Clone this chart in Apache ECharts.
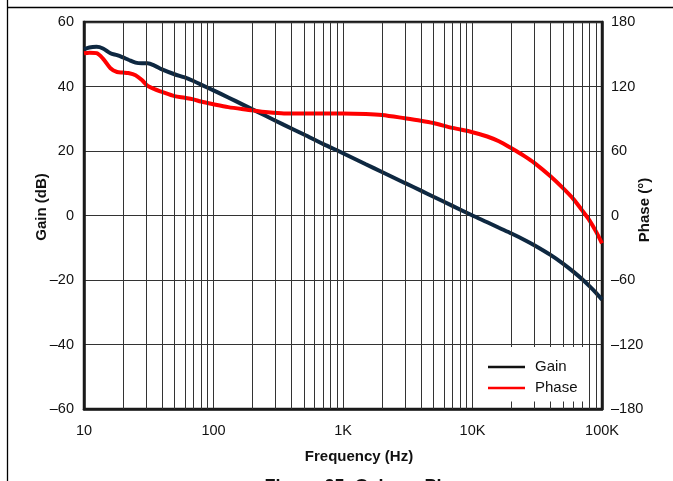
<!DOCTYPE html>
<html>
<head>
<meta charset="utf-8">
<script src="https://cdn.jsdelivr.net/npm/echarts@6/dist/echarts.min.js"></script>
<style>
html,body{margin:0;padding:0;background:#fff;}
#chart{width:673px;height:481px;}
</style>
</head>
<body>
<div id="chart"></div>
<script>
// ---- data ----
const freqs = [10, 11, 12.5, 14, 16, 18, 20, 22, 25, 28, 31, 35, 40, 50, 60, 70, 80, 100, 130, 170, 200, 250, 350, 500, 700, 1000, 1500, 2000, 3000, 4000, 5000, 7000, 10000, 13000, 16000, 20000, 25000, 30000, 40000, 50000, 60000, 70000, 80000, 90000, 100000];
const gainDb = [51.5, 52.1, 52.3, 51.8, 50.3, 49.7, 49.0, 48.3, 47.4, 47.2, 47.2, 46.5, 45.3, 43.8, 42.8, 41.7, 40.6, 38.8, 36.6, 34.3, 32.9, 31.0, 28.1, 25.1, 22.2, 19.3, 15.9, 13.5, 10.1, 7.7, 5.8, 3.0, 0, -2.1, -3.8, -5.6, -7.5, -9.2, -12.2, -14.9, -17.4, -19.7, -21.9, -24.0, -26.1];
const phaseDeg = [151, 151.5, 151, 146, 137, 133.5, 133, 132.5, 130.5, 126, 120.5, 117.5, 115, 111, 109.5, 108, 106, 103.5, 100.8, 98.8, 97.8, 96.3, 95, 95, 95, 95, 94.5, 93.5, 90.5, 88.2, 86, 81.5, 77.5, 73.5, 69, 62.5, 55.5, 49, 36.5, 25.5, 15.5, 5, -4.5, -15, -26];
const decades = [10, 100, 1000, 10000, 100000];
const xTickLabels = ['10', '100', '1K', '10K', '100K'];
const minorMultipliers = [2, 3, 4, 5, 6, 7, 8, 9];
const seriesNames = ['Gain', 'Phase'];

const minorLines = [];
decades.slice(0, 4).forEach(d => minorMultipliers.forEach(m => minorLines.push({ xAxis: d * m })));

const fmtNeg = v => (v < 0 ? '\u2013' + (-v) : String(v));
const FONT = 'Liberation Sans, Arial, sans-serif';
const gridColor = '#333';

const chart = echarts.init(document.getElementById('chart'), null, { renderer: 'canvas' });
chart.setOption({
  animation: false,
  backgroundColor: '#fff',
  textStyle: { fontFamily: FONT },
  grid: { left: 84, right: 71, top: 22, bottom: 72, show: true, borderColor: '#1a1a1a', borderWidth: 2.5, backgroundColor: 'transparent' },
  legend: {
    orient: 'vertical', left: 478, top: 347, z: 10,
    backgroundColor: '#fff', padding: [12.5, 7, 6, 10], itemGap: 6,
    itemWidth: 37, itemHeight: 2.5, icon: 'rect',
    textStyle: { fontSize: 15, color: '#111', fontFamily: FONT, padding: [0, 0, 0, 5] },
    data: [
      { name: seriesNames[0], itemStyle: { color: '#111' } },
      { name: seriesNames[1], itemStyle: { color: '#ff0000' } }
    ]
  },
  xAxis: {
    type: 'log', logBase: 10, min: 10, max: 100000,
    axisLine: { show: true, onZero: false, lineStyle: { color: '#1a1a1a', width: 2.5 } },
    axisTick: { show: false },
    splitLine: { show: true, lineStyle: { color: gridColor, width: 1 } },
    axisLabel: {
      fontSize: 14.5, color: '#111', fontFamily: FONT, margin: 14,
      formatter: v => { const i = decades.indexOf(Math.round(v)); return i >= 0 ? xTickLabels[i] : ''; }
    }
  },
  yAxis: [
    {
      type: 'value', min: -60, max: 60, interval: 20,
      axisLine: { show: true, onZero: false, lineStyle: { color: '#1a1a1a', width: 2.5 } },
      axisTick: { show: false },
      splitLine: { show: true, lineStyle: { color: gridColor, width: 1 } },
      axisLabel: { fontSize: 14.5, color: '#111', fontFamily: FONT, margin: 10, formatter: fmtNeg }
    },
    {
      type: 'value', min: -180, max: 180, interval: 60, position: 'right',
      axisLine: { show: true, onZero: false, lineStyle: { color: '#1a1a1a', width: 2.5 } },
      axisTick: { show: false },
      splitLine: { show: false },
      axisLabel: { fontSize: 14.5, color: '#111', fontFamily: FONT, margin: 9, formatter: fmtNeg }
    }
  ],
  series: [
    {
      name: seriesNames[0], type: 'line', yAxisIndex: 0, showSymbol: false, smooth: 0.3,
      data: freqs.map((f, i) => [f, gainDb[i]]),
      lineStyle: { color: '#0e2841', width: 4 }, itemStyle: { color: '#0e2841' },
      markLine: {
        silent: true, symbol: 'none', label: { show: false }, animation: false,
        lineStyle: { color: gridColor, width: 1, type: 'solid' },
        data: minorLines
      },
      z: 3
    },
    {
      name: seriesNames[1], type: 'line', yAxisIndex: 1, showSymbol: false, smooth: 0.3,
      data: freqs.map((f, i) => [f, phaseDeg[i]]),
      lineStyle: { color: '#ff0000', width: 4 }, itemStyle: { color: '#ff0000' },
      z: 3
    }
  ],
  graphic: [
    { type: 'rect', z: 9, shape: { x: 478, y: 347, width: 107, height: 53 }, style: { fill: '#fff' }, silent: true },
    { type: 'line', shape: { x1: 7.5, y1: 7.5, x2: 673, y2: 7.5 }, style: { stroke: '#000', lineWidth: 1.3 } },
    { type: 'line', shape: { x1: 7.5, y1: 0, x2: 7.5, y2: 481 }, style: { stroke: '#000', lineWidth: 1.3 } },
    { type: 'text', x: 42, y: 207, rotation: Math.PI / 2, style: { text: 'Gain (dB)', font: 'bold 15px ' + FONT, fill: '#111', textAlign: 'center', textVerticalAlign: 'middle' } },
    { type: 'text', x: 645, y: 210, rotation: Math.PI / 2, style: { text: 'Phase (°)', font: 'bold 15px ' + FONT, fill: '#111', textAlign: 'center', textVerticalAlign: 'middle' } },
    { type: 'text', x: 359, y: 457, style: { text: 'Frequency (Hz)', font: 'bold 15px ' + FONT, fill: '#111', textAlign: 'center', textVerticalAlign: 'middle' } },
    { type: 'text', x: 371, y: 487.5, style: { text: 'Figure 25. Gain vs Phase', font: 'bold 18px ' + FONT, fill: '#111', textAlign: 'center', textVerticalAlign: 'middle' } }
  ]
});
</script>
</body>
</html>
